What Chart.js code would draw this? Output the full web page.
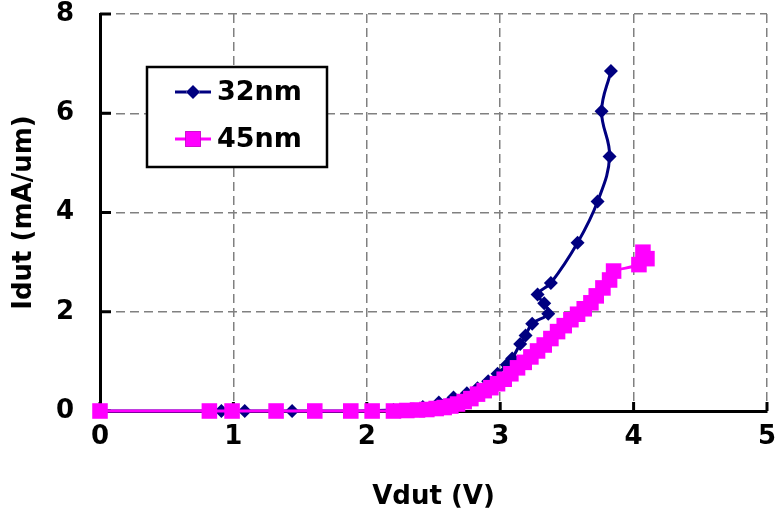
<!DOCTYPE html>
<html>
<head>
<meta charset="utf-8">
<script src="https://cdn.jsdelivr.net/npm/chart.js@4"></script>
<style>
  html, body { margin: 0; padding: 0; background: #fff; }
  #wrap { width: 778px; height: 519px; }
</style>
</head>
<body>
<div id="wrap"><canvas id="ivChart" width="778" height="519"></canvas></div>
<script>
// 32nm device
const vdut32 = [0, 0.91, 1.085, 1.44, 1.88, 2.2, 2.42, 2.54, 2.65, 2.75, 2.83, 2.91, 2.98, 3.05, 3.09, 3.15, 3.19, 3.24, 3.36, 3.33, 3.28, 3.38, 3.58, 3.73, 3.82, 3.76, 3.83];
const idut32 = [0, 0, 0, 0, 0, 0.02, 0.08, 0.17, 0.27, 0.36, 0.46, 0.6, 0.75, 0.93, 1.06, 1.35, 1.52, 1.76, 1.96, 2.17, 2.35, 2.58, 3.39, 4.22, 5.13, 6.04, 6.85];

// 45nm device
const vdut45 = [0, 0.82, 0.99, 1.32, 1.61, 1.88, 2.04, 2.2, 2.3, 2.38, 2.45, 2.52, 2.58, 2.63, 2.68, 2.73, 2.78, 2.83, 2.88, 2.93, 2.98, 3.03, 3.08, 3.13, 3.18, 3.23, 3.28, 3.33, 3.38, 3.43, 3.48, 3.53, 3.58, 3.63, 3.68, 3.72, 3.77, 3.82, 3.85, 4.04, 4.07, 4.1];
const idut45 = [0, 0, 0, 0, 0, 0, 0, 0, 0.01, 0.02, 0.03, 0.05, 0.07, 0.1, 0.14, 0.19, 0.25, 0.34, 0.41, 0.47, 0.55, 0.64, 0.75, 0.87, 0.98, 1.09, 1.21, 1.33, 1.46, 1.6, 1.72, 1.84, 1.95, 2.06, 2.18, 2.32, 2.48, 2.64, 2.82, 2.95, 3.2, 3.07];

const xTicks = [0, 1, 2, 3, 4, 5];
const yTicks = [0, 2, 4, 6, 8];

const FONT = "'DejaVu Sans', sans-serif";

function toPoints(xs, ys) {
  return xs.map((x, i) => ({ x: x, y: ys[i] }));
}

// tick marks pointing into the plot area
const innerTicks = {
  id: "innerTicks",
  beforeDatasetsDraw(chart) {
    const { ctx, chartArea, scales } = chart;
    ctx.save();
    ctx.strokeStyle = "#000";
    ctx.lineWidth = 3;
    xTicks.forEach(v => {
      const px = scales.x.getPixelForValue(v);
      ctx.beginPath();
      ctx.moveTo(px, chartArea.bottom);
      ctx.lineTo(px, chartArea.bottom - 9);
      ctx.stroke();
    });
    yTicks.forEach(v => {
      const py = scales.y.getPixelForValue(v);
      ctx.beginPath();
      ctx.moveTo(chartArea.left, py);
      ctx.lineTo(chartArea.left + 11, py);
      ctx.stroke();
    });
    ctx.restore();
  }
};

// boxed legend inside the plot
const boxLegend = {
  id: "boxLegend",
  afterDraw(chart) {
    const ctx = chart.ctx;
    const box = { x: 147, y: 67, w: 180, h: 100 };
    ctx.save();
    ctx.fillStyle = "#fff";
    ctx.fillRect(box.x, box.y, box.w, box.h);
    ctx.strokeStyle = "#000";
    ctx.lineWidth = 2.5;
    ctx.strokeRect(box.x, box.y, box.w, box.h);

    const rows = [chart.data.datasets[1], chart.data.datasets[0]];
    rows.forEach((ds, i) => {
      const cy = 92 + i * 47;
      ctx.strokeStyle = ds.borderColor;
      ctx.lineWidth = ds.borderWidth;
      ctx.beginPath();
      ctx.moveTo(175, cy);
      ctx.lineTo(211, cy);
      ctx.stroke();
      Chart.helpers.drawPoint(ctx, {
        pointStyle: ds.pointStyle,
        radius: ds.legendRadius,
        borderWidth: 0
      }, 193, cy);
      ctx.fillStyle = ds.pointBackgroundColor;
      ctx.fill();
      ctx.fillStyle = "#000";
      ctx.font = "bold 27px " + FONT;
      ctx.textBaseline = "middle";
      ctx.textAlign = "left";
      ctx.fillText(ds.label, 217, cy + 1);
    });
    ctx.restore();
  }
};

const ctx = document.getElementById("ivChart").getContext("2d");

new Chart(ctx, {
  type: "scatter",
  data: {
    datasets: [
      {
        label: "45nm",
        data: toPoints(vdut45, idut45),
        showLine: true,
        borderColor: "#FF00FF",
        backgroundColor: "#FF00FF",
        pointBackgroundColor: "#FF00FF",
        pointBorderColor: "#FF00FF",
        borderWidth: 3,
        pointStyle: "rect",
        pointRadius: 11,
        pointBorderWidth: 0,
        legendRadius: 11,
        tension: 0.2,
        clip: false,
        order: 0
      },
      {
        label: "32nm",
        data: toPoints(vdut32, idut32),
        showLine: true,
        borderColor: "#000080",
        backgroundColor: "#000080",
        pointBackgroundColor: "#000080",
        pointBorderColor: "#000080",
        borderWidth: 3,
        pointStyle: "rectRot",
        pointRadius: 7,
        pointBorderWidth: 0,
        legendRadius: 7,
        tension: 0.4,
        clip: false,
        order: 1
      }
    ]
  },
  options: {
    responsive: false,
    animation: false,
    events: [],
    layout: { padding: { left: 0, top: 14, right: 11, bottom: 0 } },
    plugins: {
      legend: { display: false },
      tooltip: { enabled: false }
    },
    scales: {
      x: {
        type: "linear",
        min: 0,
        max: 5,
        afterFit: s => { s.height = 108; s.paddingLeft = 0; s.paddingRight = 0; },
        afterBuildTicks: s => { s.ticks = xTicks.map(v => ({ value: v })); },
        grid: { color: "#808080", lineWidth: 1.5, drawTicks: false },
        border: { color: "#000", width: 3, dash: [9, 5] },
        ticks: {
          color: "#000",
          padding: 11,
          font: { family: FONT, size: 26, weight: "bold" }
        },
        title: {
          display: true,
          text: "Vdut (V)",
          color: "#000",
          padding: { top: 0, bottom: 6 },
          font: { family: FONT, size: 26, weight: "bold" }
        }
      },
      y: {
        type: "linear",
        min: 0,
        max: 8,
        afterFit: s => { s.width = 100; s.paddingTop = 0; s.paddingBottom = 0; },
        afterBuildTicks: s => { s.ticks = yTicks.map(v => ({ value: v })); },
        grid: { color: "#808080", lineWidth: 1.5, drawTicks: false },
        border: { color: "#000", width: 3, dash: [9, 5] },
        ticks: {
          color: "#000",
          padding: 26,
          font: { family: FONT, size: 26, weight: "bold" }
        },
        title: {
          display: true,
          text: "Idut (mA/um)",
          color: "#000",
          padding: { top: 9, bottom: 0 },
          font: { family: FONT, size: 26, weight: "bold" }
        }
      }
    }
  },
  plugins: [innerTicks, boxLegend]
});
</script>
</body>
</html>
